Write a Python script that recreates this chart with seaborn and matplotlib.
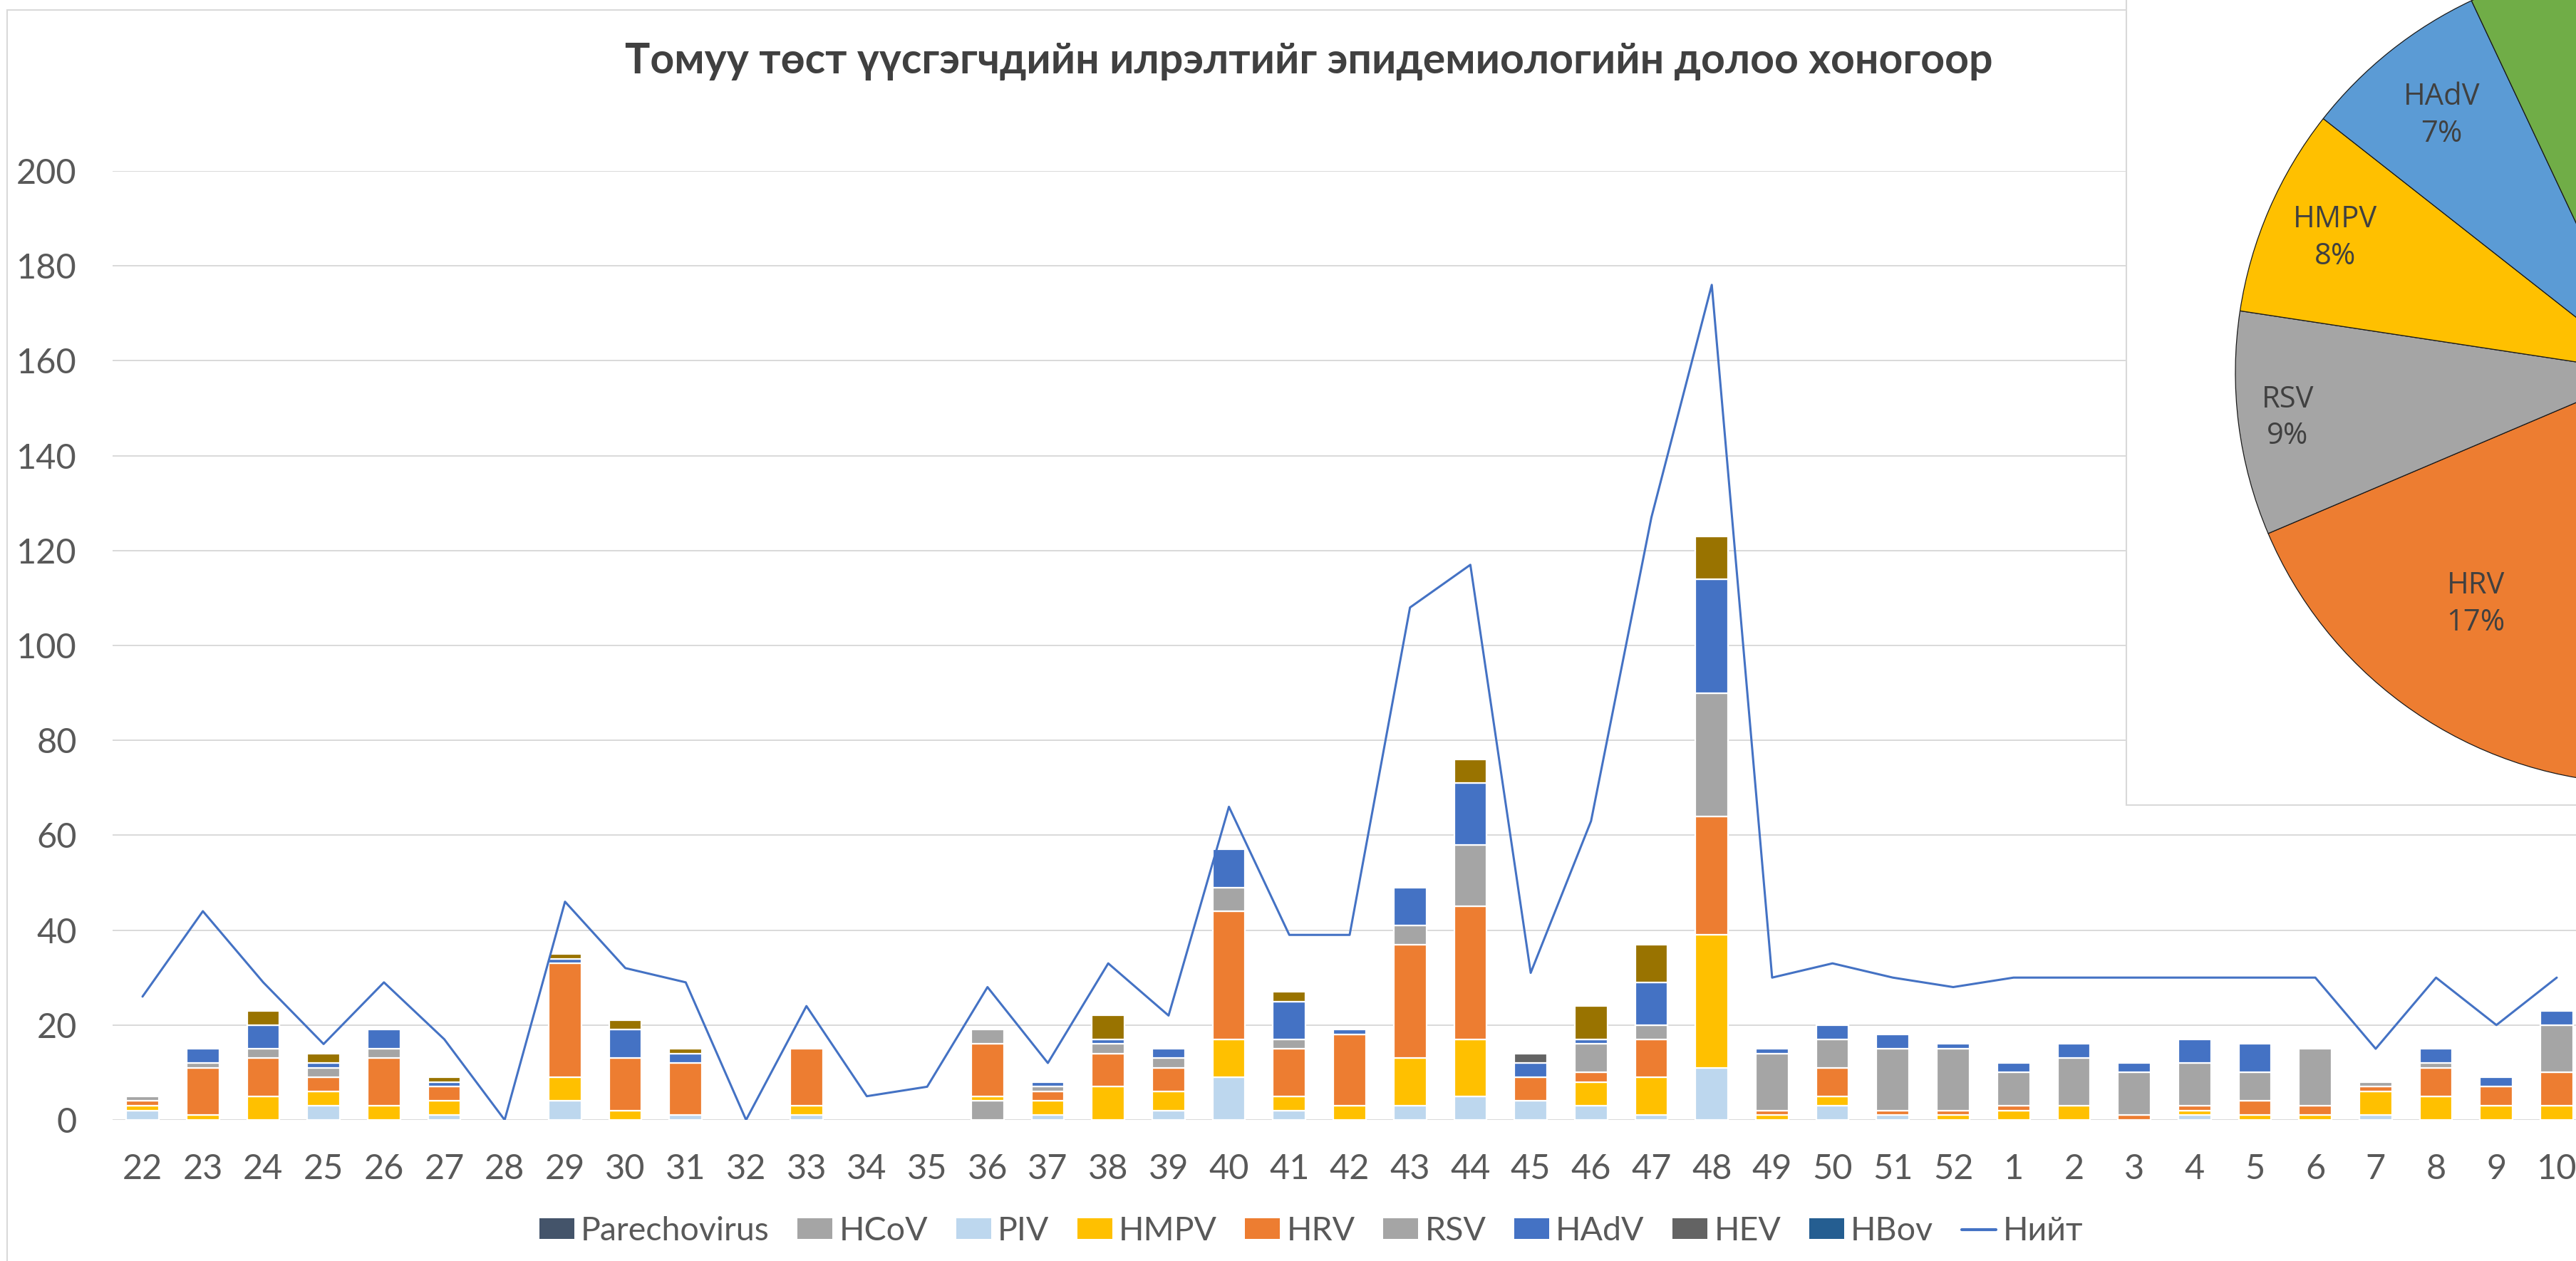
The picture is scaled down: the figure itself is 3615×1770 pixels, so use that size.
import numpy as np
import matplotlib
matplotlib.use('Agg')
import matplotlib.pyplot as plt
from matplotlib.patches import Patch, Rectangle
from matplotlib.lines import Line2D
import seaborn as sns

# epidemiological weeks
weeks = ['22', '23', '24', '25', '26', '27', '28', '29', '30', '31', '32', '33', '34', '35',
         '36', '37', '38', '39', '40', '41', '42', '43', '44', '45', '46', '47', '48', '49',
         '50', '51', '52', '1', '2', '3', '4', '5', '6', '7', '8', '9', '10']

# counts per week
parechovirus = [0, 0, 0, 0, 0, 0, 0, 0, 0, 0, 0, 0, 0, 0, 0, 0, 0, 0, 0, 0, 0,
                0, 0, 0, 0, 0, 0, 0, 0, 0, 0, 0, 0, 0, 0, 0, 0, 0, 0, 0, 0]
hcov = [0, 0, 0, 0, 0, 0, 0, 0, 0, 0, 0, 0, 0, 0, 4, 0, 0, 0, 0, 0, 0,
        0, 0, 0, 0, 0, 0, 0, 0, 0, 0, 0, 0, 0, 0, 0, 0, 0, 0, 0, 0]
piv = [2, 0, 0, 3, 0, 1, 0, 4, 0, 1, 0, 1, 0, 0, 0, 1, 0, 2, 9, 2, 0,
       3, 5, 4, 3, 1, 11, 0, 3, 1, 0, 0, 0, 0, 1, 0, 0, 1, 0, 0, 0]
hmpv = [1, 1, 5, 3, 3, 3, 0, 5, 2, 0, 0, 2, 0, 0, 1, 3, 7, 4, 8, 3, 3,
        10, 12, 0, 5, 8, 28, 1, 2, 0, 1, 2, 3, 0, 1, 1, 1, 5, 5, 3, 3]
hrv = [1, 10, 8, 3, 10, 3, 0, 24, 11, 11, 0, 12, 0, 0, 11, 2, 7, 5, 27, 10, 15,
       24, 28, 5, 2, 8, 25, 1, 6, 1, 1, 1, 0, 1, 1, 3, 2, 1, 6, 4, 7]
rsv = [1, 1, 2, 2, 2, 0, 0, 0, 0, 0, 0, 0, 0, 0, 3, 1, 2, 2, 5, 2, 0,
       4, 13, 0, 6, 3, 26, 12, 6, 13, 13, 7, 10, 9, 9, 6, 12, 1, 1, 0, 10]
hadv = [0, 3, 5, 1, 4, 1, 0, 1, 6, 2, 0, 0, 0, 0, 0, 1, 1, 2, 8, 8, 1,
        8, 13, 3, 1, 9, 24, 1, 3, 3, 1, 2, 3, 2, 5, 6, 0, 0, 3, 2, 3]
hev = [0, 0, 0, 0, 0, 0, 0, 0, 0, 0, 0, 0, 0, 0, 0, 0, 0, 0, 0, 0, 0,
       0, 0, 2, 0, 0, 0, 0, 0, 0, 0, 0, 0, 0, 0, 0, 0, 0, 0, 0, 0]
hbov = [0, 0, 0, 0, 0, 0, 0, 0, 0, 0, 0, 0, 0, 0, 0, 0, 0, 0, 0, 0, 0,
        0, 0, 0, 0, 0, 0, 0, 0, 0, 0, 0, 0, 0, 0, 0, 0, 0, 0, 0, 0]
# series on top of the stack whose legend entry is cut off in the source
other = [0, 0, 3, 2, 0, 1, 0, 1, 2, 1, 0, 0, 0, 0, 0, 0, 5, 0, 0, 2, 0,
         0, 5, 0, 7, 8, 9, 0, 0, 0, 0, 0, 0, 0, 0, 0, 0, 0, 0, 0, 0]
total = [26, 44, 29, 16, 29, 17, 0, 46, 32, 29, 0, 24, 5, 7, 28, 12, 33, 22, 66, 39, 39,
         108, 117, 31, 63, 127, 176, 30, 33, 30, 28, 30, 30, 30, 30, 30, 30, 15, 30, 20, 30]

# pie (share by pathogen), clockwise from 12 o'clock
pie_labels = ['', 'HRV', 'RSV', 'HMPV', 'HAdV', '']
pie_values = [51.6, 17.0, 8.8, 8.2, 7.4, 7.0]
pie_colors = ['#4472C4', '#ED7D31', '#A5A5A5', '#FFC000', '#5B9BD5', '#70AD47']
label_dist = [0.8, 0.70, 0.88, 0.825, 0.80, 0.8]

title = 'Томуу төст үүсгэгчдийн илрэлтийг эпидемиологийн долоо хоногоор'

sns.set_theme(style='white')
plt.rcParams['font.family'] = ['Lato', 'Noto Sans', 'DejaVu Sans']

W, H = 3615, 1770
fig = plt.figure(figsize=(W / 100, H / 100), dpi=100)

# chart area border (only left/top edges are in view)
fig.patches.append(Rectangle((10 / W, -0.1), 2, 1.1 - 14 / H, transform=fig.transFigure,
                             fill=False, edgecolor='#D9D9D9', linewidth=1.5, zorder=0.5))

ax = fig.add_axes([157.65 / W, 198 / H, 41 * 84.7 / W, 1332 / H])
x = np.arange(len(weeks))

stack = [('Parechovirus', parechovirus, '#44546A'),
         ('HCoV', hcov, '#A5A5A5'),
         ('PIV', piv, '#BDD7EE'),
         ('HMPV', hmpv, '#FFC000'),
         ('HRV', hrv, '#ED7D31'),
         ('RSV', rsv, '#A5A5A5'),
         ('HAdV', hadv, '#4472C4'),
         ('HEV', hev, '#636363'),
         ('HBov', hbov, '#255E91'),
         ('other', other, '#997300')]

bottom = np.zeros(len(weeks))
for name, vals, col in stack:
    vals = np.array(vals, dtype=float)
    m = vals > 0
    if m.any():
        ax.bar(x[m], vals[m], bottom=bottom[m], width=0.54, color=col,
               edgecolor='white', linewidth=1.6, zorder=2)
    bottom += vals

sns.lineplot(x=x, y=total, ax=ax, color='#4472C4', linewidth=2.2, legend=False, zorder=3)

ax.set_xlim(-0.5, len(weeks) - 0.5)
ax.set_ylim(0, 200)
ax.set_yticks(range(0, 201, 20))
ax.set_xticks(x)
ax.set_xticklabels(weeks)
ax.grid(axis='y', color='#D9D9D9', linewidth=1.4)
ax.set_axisbelow(True)
for s in ax.spines.values():
    s.set_visible(False)
ax.tick_params(axis='x', length=0, labelsize=35, colors='#595959', pad=34)
ax.tick_params(axis='y', length=0, labelsize=35, colors='#595959', pad=36)
ax.set_xlabel('')
ax.set_ylabel('')

fig.text(1837 / W, 1 - 103 / H, title, ha='center', va='baseline',
         fontsize=42.5, fontweight='bold', color='#404040')

# legend (one row visible)
handles = [Patch(facecolor=c, edgecolor='none') for n, v, c in stack[:9]]
handles.append(Line2D([], [], color='#4472C4', linewidth=3))
labels = [n for n, v, c in stack[:9]] + ['Нийт']
fig.legend(handles, labels, loc='center', bbox_to_anchor=(1840 / W, 1 - 1728 / H),
           ncol=10, frameon=False, fontsize=33.5, labelcolor='#595959',
           handlelength=1.05, handleheight=0.58, handletextpad=0.2, columnspacing=0.85)

# pie chart box overlapping the top right
fig.patches.append(Rectangle((2984 / W, (H - 1130) / H), 1, 1, transform=fig.transFigure,
                             facecolor='white', edgecolor='#D9D9D9', linewidth=1.5, zorder=1))

r = 577
pax = fig.add_axes([(3714 - r) / W, (H - 523 - r) / H, 2 * r / W, 2 * r / H])
pax.set_zorder(2)
wedges, _ = pax.pie(pie_values, colors=pie_colors, startangle=90, counterclock=False,
                    wedgeprops=dict(edgecolor='#1a1a1a', linewidth=0.9))
pax.set_xlim(-1, 1)
pax.set_ylim(-1, 1)
pax.axis('off')
for w, lab, val, d in zip(wedges, pie_labels, pie_values, label_dist):
    if not lab:
        continue
    ang = np.deg2rad((w.theta1 + w.theta2) / 2)
    pax.text(d * np.cos(ang), d * np.sin(ang), f'{lab}\n{val:.0f}%',
             ha='center', va='center', fontsize=30, color='#404040',
             family=['Open Sans', 'DejaVu Sans'], linespacing=1.3)

fig.savefig('out.png', dpi=100)
